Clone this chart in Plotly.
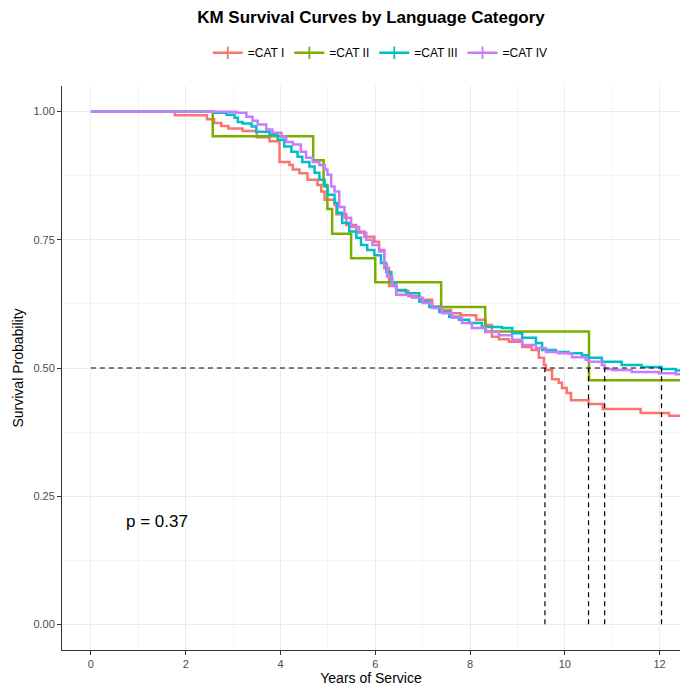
import plotly.graph_objects as go

# ---- data ----
groups = ["=CAT I", "=CAT II", "=CAT III", "=CAT IV"]
colors = ["#F8766D", "#7CAE00", "#00BFC4", "#C77CFF"]

cat1_t = [0, 1.77, 2.45, 2.6, 2.75, 2.9, 3.2, 3.5, 3.77, 3.98, 4.19, 4.26, 4.4, 4.57, 4.78, 4.86, 4.93,
          5.14, 5.18, 5.39, 5.6, 5.77, 5.98, 6.08, 6.19, 6.29, 6.45, 6.7, 6.93, 7.2, 7.39, 7.6, 7.8, 8.13,
          8.33, 8.46, 8.61, 8.82, 9.1, 9.3, 9.45, 9.56, 9.6, 9.73, 9.87, 9.94, 10.04, 10.13, 10.5, 10.8,
          11.6, 12.2, 12.43]
cat1_s = [1, 0.993, 0.985, 0.978, 0.972, 0.967, 0.962, 0.95, 0.942, 0.902, 0.896, 0.887, 0.88, 0.867,
          0.857, 0.844, 0.828, 0.818, 0.8, 0.779, 0.766, 0.756, 0.746, 0.73, 0.695, 0.66, 0.65, 0.64,
          0.633, 0.62, 0.613, 0.607, 0.603, 0.594, 0.584, 0.561, 0.556, 0.551, 0.541, 0.535, 0.52, 0.506,
          0.496, 0.478, 0.471, 0.461, 0.451, 0.437, 0.43, 0.42, 0.412, 0.407, 0.407]

cat2_t = [0, 2.57, 4.69, 4.91, 4.99, 5.09, 5.49, 6.0, 7.39, 8.32, 10.51, 12.43]
cat2_s = [1, 0.952, 0.905, 0.857, 0.810, 0.762, 0.714, 0.667, 0.619, 0.571, 0.476, 0.476]

cat3_t = [0, 2.6, 2.86, 3.03, 3.1, 3.2, 3.39, 3.49, 3.77, 3.94, 4.08, 4.23, 4.36, 4.46, 4.61, 4.72, 4.82,
          4.93, 4.99, 5.14, 5.2, 5.3, 5.45, 5.6, 5.7, 5.83, 5.98, 6.12, 6.23, 6.34, 6.44, 6.65, 6.93, 7.14,
          7.35, 7.56, 7.77, 7.98, 8.25, 8.67, 8.89, 9.1, 9.39, 9.52, 9.81, 10.08, 10.36, 10.5, 10.78, 11.2,
          11.62, 12.04, 12.34, 12.43]
cat3_s = [1, 0.998, 0.994, 0.988, 0.98, 0.977, 0.971, 0.961, 0.955, 0.945, 0.932, 0.922, 0.912, 0.902,
          0.893, 0.881, 0.867, 0.854, 0.838, 0.822, 0.803, 0.783, 0.766, 0.754, 0.74, 0.73, 0.72, 0.705,
          0.687, 0.666, 0.652, 0.646, 0.629, 0.619, 0.609, 0.6, 0.594, 0.588, 0.58, 0.578, 0.568, 0.559,
          0.549, 0.535, 0.531, 0.529, 0.525, 0.52, 0.512, 0.506, 0.502, 0.498, 0.495, 0.495]

cat4_t = [0, 3.07, 3.28, 3.41, 3.52, 3.7, 3.83, 4.02, 4.12, 4.26, 4.43, 4.54, 4.68, 4.82, 4.93, 4.99,
          5.07, 5.14, 5.24, 5.35, 5.49, 5.66, 5.81, 5.94, 6.08, 6.19, 6.25, 6.36, 6.44, 6.78, 7.0, 7.2,
          7.41, 7.62, 7.83, 8.04, 8.33, 8.61, 8.89, 9.1, 9.39, 9.6, 9.87, 10.15, 10.44, 10.5, 10.78, 10.84,
          11.0, 11.41, 11.98, 12.34, 12.43]
cat4_s = [1, 0.998, 0.99, 0.982, 0.975, 0.965, 0.959, 0.951, 0.941, 0.936, 0.922, 0.91, 0.902, 0.896,
          0.887, 0.877, 0.854, 0.844, 0.814, 0.793, 0.775, 0.764, 0.75, 0.74, 0.727, 0.701, 0.678, 0.662,
          0.643, 0.637, 0.627, 0.617, 0.607, 0.598, 0.588, 0.578, 0.57, 0.564, 0.555, 0.545, 0.539, 0.531,
          0.529, 0.521, 0.516, 0.512, 0.506, 0.498, 0.496, 0.492, 0.49, 0.488, 0.488]

medians = [9.58, 10.5, 10.84, 12.04]
p_text = "p = 0.37"

times = [cat1_t, cat2_t, cat3_t, cat4_t]
survs = [cat1_s, cat2_s, cat3_s, cat4_s]

fig = go.Figure()

for name, col, t, s in zip(groups, colors, times, survs):
    fig.add_trace(go.Scatter(x=t, y=s, mode="lines", line=dict(color=col, width=2.5, shape="hv"),
                             legendgroup=name, showlegend=False, hoverinfo="skip"))

# legend entries (line + cross)
for name, col in zip(groups, colors):
    fig.add_trace(go.Scatter(x=[None], y=[None], mode="lines+markers", name=name, legendgroup=name,
                             line=dict(color=col, width=2.5),
                             marker=dict(symbol="line-ns", size=9, color=col,
                                         line=dict(color=col, width=1.8))))

# median lines
dash_style = dict(color="black", width=1.2, dash="5px,4px")
fig.add_trace(go.Scatter(x=[0, max(medians)], y=[0.5, 0.5], mode="lines",
                         line=dash_style, showlegend=False))
for m in medians:
    fig.add_trace(go.Scatter(x=[m, m], y=[0, 0.5], mode="lines",
                             line=dash_style, showlegend=False))

fig.add_annotation(x=0.69, y=0.2, text=p_text, showarrow=False, xanchor="left", yanchor="middle",
                   font=dict(size=17, color="black"))

axis_common = dict(showline=True, linecolor="#333333", linewidth=1, ticks="outside", ticklen=4,
                   tickcolor="#333333", tickfont=dict(size=11, color="#4D4D4D"),
                   showgrid=True, gridcolor="#EBEBEB", gridwidth=1,
                   minor=dict(showgrid=True, gridcolor="#F5F5F5", gridwidth=0.6), zeroline=False,
                   mirror=False)

fig.update_xaxes(range=[-0.61, 12.43], tickvals=[0, 2, 4, 6, 8, 10, 12],
                 minor_tickvals=[1, 3, 5, 7, 9, 11],
                 title=dict(text="Years of Service", font=dict(size=14, color="black"), standoff=4),
                 **axis_common)
fig.update_yaxes(range=[-0.05, 1.05], tickvals=[0, 0.25, 0.5, 0.75, 1.0],
                 ticktext=["0.00", "0.25", "0.50", "0.75", "1.00"],
                 minor_tickvals=[0.125, 0.375, 0.625, 0.875],
                 title=dict(text="Survival Probability", font=dict(size=14, color="black"), standoff=6),
                 **axis_common)

fig.update_layout(
    width=680, height=686,
    margin=dict(l=62, r=0, t=86, b=36),
    paper_bgcolor="white", plot_bgcolor="white",
    font=dict(family="Liberation Sans, Arial, sans-serif"),
    title=dict(text="<b>KM Survival Curves by Language Category</b>", x=0.5, xref="paper",
               y=0.975, yanchor="middle", font=dict(size=17, color="black")),
    legend=dict(orientation="h", x=0.515, xanchor="center", xref="paper", y=1.059, yanchor="middle",
                font=dict(size=12, color="black"), itemwidth=30, tracegroupgap=0),
)

fig.write_html("out.html")
